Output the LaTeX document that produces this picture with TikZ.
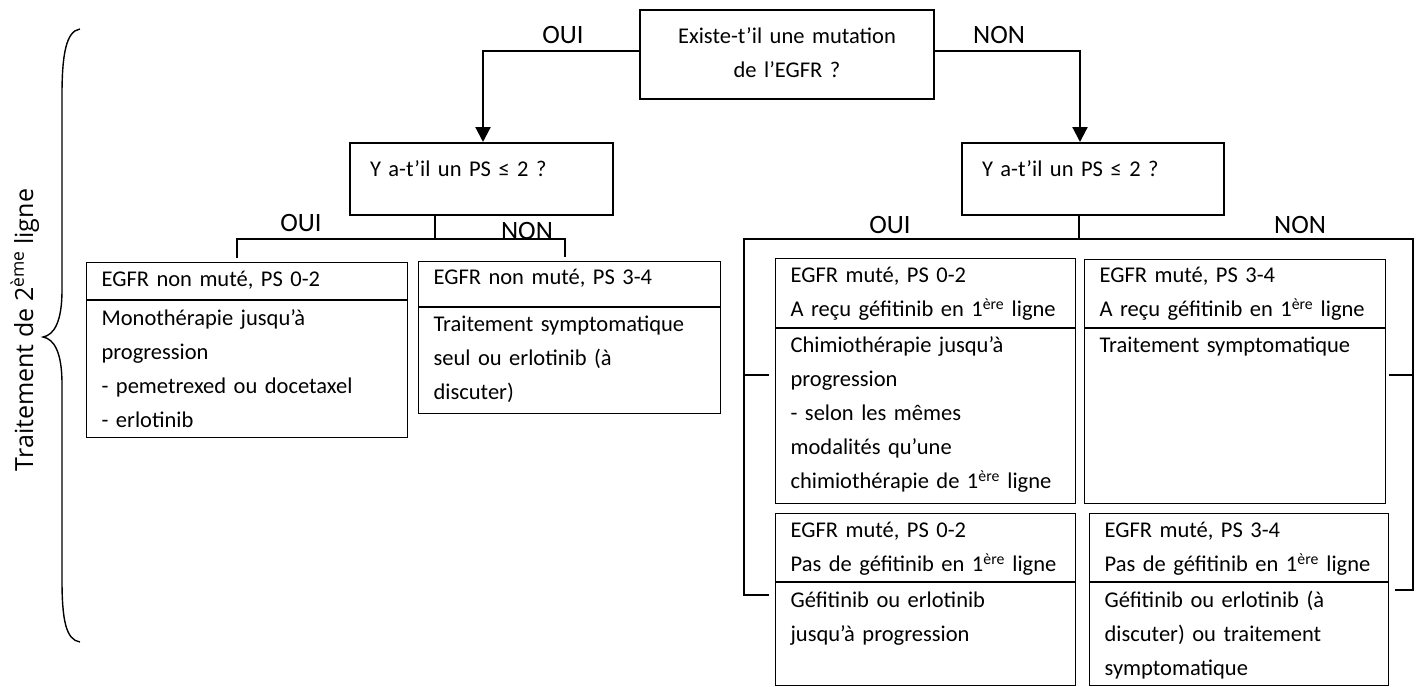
\documentclass[tikz,border=0pt]{standalone}
\usepackage{fontspec}
\setmainfont{Carlito}
\newfontfamily\vfont{Open Sans}
\usetikzlibrary{arrows.meta}
\tikzset{
  boxtext/.style={font=\fontsize{22.5}{34}\selectfont},
  cell/.style n args={4}{draw, line width=1.2pt, anchor=north west, inner xsep=15pt, inner ysep=0pt,
     text width=#1, text height=#2, text depth=#3, align=#4, boxtext},
  qbox/.style n args={4}{draw, line width=2pt, anchor=north west, inner xsep=#4, inner ysep=0pt,
     text width=#1, text height=#2, text depth=#3, align=left, boxtext},
  lab/.style={font=\fontsize{26.5}{30}\selectfont, inner sep=0pt},
  main/.style={line width=2.2pt, -{Triangle[length=15pt,width=15pt]}},
  thin/.style={line width=1.4pt},
}
\begin{document}
\begin{tikzpicture}[x=1pt,y=-1pt]
\useasboundingbox (0,0) rectangle (1416,686);

% top question
\node[qbox={264pt}{33pt}{56pt}{15pt}, align=center] (top) at (639,9)
  {Existe-t’il une mutation\\de l’EGFR ?};
\node[qbox={223pt}{33pt}{39pt}{20pt}] (Yl) at (349,142) {Y a-t’il un PS ≤ 2 ?};
\node[qbox={222pt}{33pt}{39pt}{20pt}] (Yr) at (961,142) {Y a-t’il un PS ≤ 2 ?};

\node[lab] (oui1) at (563,35) {OUI};
\node[lab] (non1) at (999,35) {NON};
\node[lab] (oui2) at (301,223) {OUI};
\node[lab] (non2) at (527,231) {NON};
\node[lab] (oui3) at (890,225) {OUI};
\node[lab] (non3) at (1300,225) {NON};

\draw[main] ([yshift=3.5pt]top.west) -| ([xshift=1.5pt]Yl.north);
\draw[main] ([yshift=3.5pt]top.east) -| ([xshift=-13pt]Yr.north);

% left branch boxes
\node[cell={291pt}{24pt}{13pt}{left}] (L1h) at (86,262) {EGFR non muté, PS 0-2};
\node[cell={291pt}{25pt}{112pt}{left}] (L1b) at (L1h.south west)
  {Monothérapie jusqu’à\\progression\\- pemetrexed ou docetaxel\\- erlotinib};
\node[cell={272pt}{23pt}{22pt}{left}] (L2h) at (418,261) {EGFR non muté, PS 3-4};
\node[cell={272pt}{24pt}{82pt}{left}] (L2b) at (L2h.south west)
  {Traitement symptomatique\\seul ou erlotinib (à\\discuter)};

% right branch boxes
\node[cell={270pt}{24pt}{45pt}{left}] (R1h) at (775,258)
  {EGFR muté, PS 0-2\\A reçu géfitinib en 1\textsuperscript{ère} ligne};
\node[cell={270pt}{24pt}{151pt}{left}] (R1b) at (R1h.south west)
  {Chimiothérapie jusqu’à\\progression\\- selon les mêmes\\modalités qu’une\\chimiothérapie de 1\textsuperscript{ère} ligne};
\node[cell={271pt}{23pt}{45pt}{left}] (R2h) at (1084,259)
  {EGFR muté, PS 3-4\\A reçu géfitinib en 1\textsuperscript{ère} ligne};
\node[cell={271pt}{24pt}{151pt}{left}] (R2b) at (R2h.south west)
  {Traitement symptomatique};
\node[cell={270pt}{24pt}{44pt}{left}] (R3h) at (775,513)
  {EGFR muté, PS 0-2\\Pas de géfitinib en 1\textsuperscript{ère} ligne};
\node[cell={270pt}{25pt}{78pt}{left}] (R3b) at (R3h.south west)
  {Géfitinib ou erlotinib\\jusqu’à progression};
\node[cell={269pt}{24pt}{44pt}{left}] (R4h) at (1089,513)
  {EGFR muté, PS 3-4\\Pas de géfitinib en 1\textsuperscript{ère} ligne};
\node[cell={269pt}{25pt}{78pt}{left}] (R4b) at (R4h.south west)
  {Géfitinib ou erlotinib (à\\discuter) ou traitement\\symptomatique};

% left connectors
\coordinate (jl) at (435,239);
\coordinate (dl) at (237,258);
\coordinate (dr) at (565,257);
\draw[thin] (Yl.south -| jl) -- (jl);
\draw[thin] (dl) -- (dl |- jl) -- (dr |- jl) -- (dr);

% right bracket
\coordinate (jr) at (1079,239);
\coordinate (bl) at (744,595);
\coordinate (br) at (1413,590);
\draw[thin] (Yr.south -| jr) -- (jr);
\draw[thin] ([xshift=25pt]bl) -- (bl) -- (bl |- jr) -- (br |- jr) -- (br) -- ([xshift=-18pt]br);
\draw[thin] (744,375) -- (769,375);
\draw[thin] (1413,375) -- (1389,375);

% brace
\draw[line width=1.4pt] (80,29) .. controls (66,31) and (62,55) .. (62,95)
  -- (62,290) .. controls (62,322) and (54,335) .. (43,337)
  .. controls (54,339) and (62,352) .. (62,384)
  -- (62,580) .. controls (62,620) and (66,640) .. (80,642);
\node[rotate=90, anchor=base, inner sep=0pt, font=\vfont\fontsize{25}{30}\selectfont] (vlabel) at (33,330)
  {Traitement de 2\textsuperscript{ème} ligne};
\end{tikzpicture}
\end{document}
